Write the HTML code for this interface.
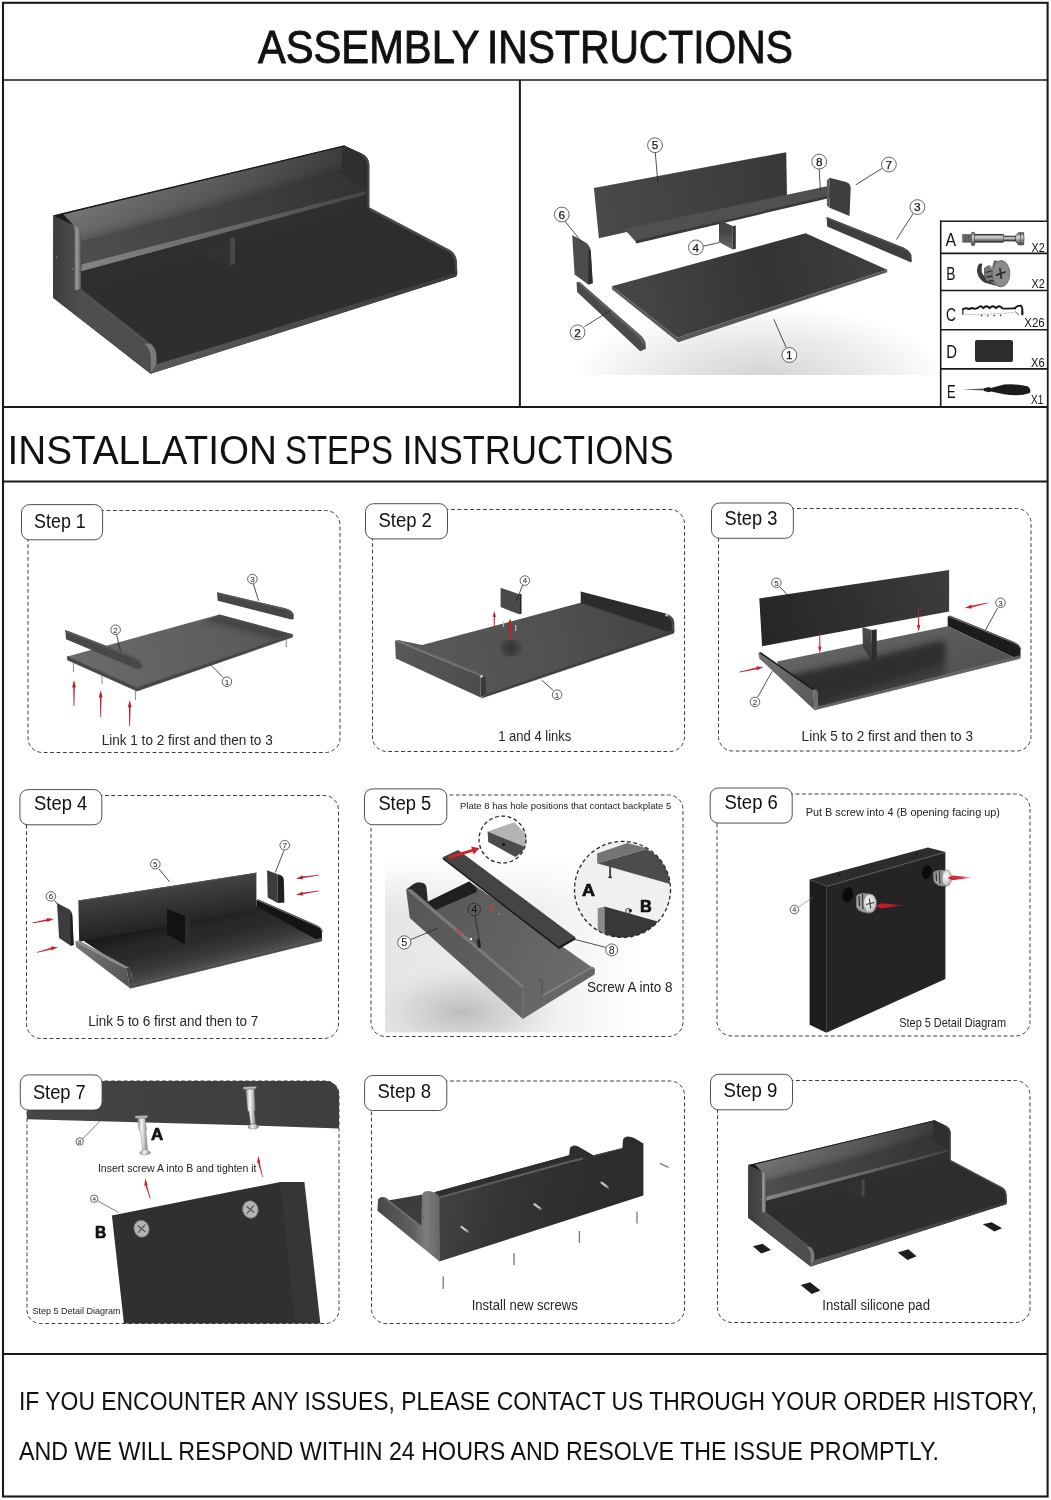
<!DOCTYPE html>
<html lang="en">
<head>
<meta charset="utf-8">
<title>Assembly Instructions</title>
<style>
html,body{margin:0;padding:0;background:#fff;}
body{width:1051px;height:1500px;overflow:hidden;font-family:"Liberation Sans",sans-serif;}
svg{display:block;position:absolute;left:0;top:0;will-change:opacity;opacity:0.999;}
text{font-family:"Liberation Sans",sans-serif;fill:#111;}
.cap{font-size:14px;fill:#262626;}
.step{font-size:20px;fill:#111;}
.num{font-size:8px;fill:#222;text-anchor:middle;}
.ld{stroke:#222;stroke-width:0.8;fill:none;}
.cir{stroke:#222;stroke-width:0.7;fill:#fff;}
.dash{fill:none;stroke:#3c3c3c;stroke-width:1;stroke-dasharray:3.8 2.6;}
.lab{fill:#fff;stroke:#3c3c3c;stroke-width:0.9;}
.fr{stroke:#1a1a1a;fill:none;}
</style>
</head>
<body>
<svg width="1051" height="1500" viewBox="0 0 1051 1500">
<!-- frame -->
<rect class="fr" x="3" y="2.8" width="1044.6" height="1493.7" stroke-width="2.1"/>
<line class="fr" x1="3" y1="79.9" x2="1047" y2="79.9" stroke-width="1.5"/>
<line class="fr" x1="519.9" y1="80" x2="519.9" y2="407" stroke-width="2"/>
<line class="fr" x1="3" y1="407" x2="1047" y2="407" stroke-width="2"/>
<line class="fr" x1="3" y1="481.6" x2="1047" y2="481.6" stroke-width="2"/>
<line class="fr" x1="3" y1="1354" x2="1047" y2="1354" stroke-width="2"/>
<!-- headings -->
<g font-size="45.4" style="stroke:#111;stroke-width:0.9">
<text x="258" y="62.8" textLength="221.5" lengthAdjust="spacingAndGlyphs">ASSEMBLY</text>
<text x="487" y="62.8" textLength="306" lengthAdjust="spacingAndGlyphs">INSTRUCTIONS</text>
</g>
<g font-size="41" style="fill:#1c1c1c">
<text x="7.5" y="463.6" textLength="269.5" lengthAdjust="spacingAndGlyphs">INSTALLATION</text>
<text x="285" y="463.6" textLength="108" lengthAdjust="spacingAndGlyphs">STEPS</text>
<text x="402.5" y="463.6" textLength="271" lengthAdjust="spacingAndGlyphs">INSTRUCTIONS</text>
</g>
<text x="19" y="1410" font-size="25.8" textLength="1018" lengthAdjust="spacingAndGlyphs">IF YOU ENCOUNTER ANY ISSUES, PLEASE CONTACT US THROUGH YOUR ORDER HISTORY,</text>
<text x="19" y="1460" font-size="25.8" textLength="920" lengthAdjust="spacingAndGlyphs">AND WE WILL RESPOND WITHIN 24 HOURS AND RESOLVE THE ISSUE PROMPTLY.</text>
<!-- step boxes -->
<g id="boxes">
<rect class="dash" x="28" y="510.5" width="312.0" height="242.0" rx="14.5"/>
<rect class="dash" x="372.5" y="509.5" width="312.0" height="242.0" rx="14.5"/>
<rect class="dash" x="718.5" y="508.5" width="312.5" height="242.5" rx="14.5"/>
<rect class="dash" x="26.5" y="795.5" width="312.0" height="243.0" rx="14.5"/>
<rect class="dash" x="371" y="795" width="312.0" height="241.5" rx="14.5"/>
<rect class="dash" x="717" y="794" width="313.0" height="242.0" rx="14.5"/>
<rect class="dash" x="27" y="1081" width="312" height="242.5" rx="13.5"/>
<rect class="dash" x="371.5" y="1081" width="313.0" height="242.5" rx="14.5"/>
<rect class="dash" x="717.5" y="1080.5" width="312.5" height="242.0" rx="14.5"/>
</g>
<!-- product render (top-left) -->
<defs>
<linearGradient id="p1back" gradientUnits="userSpaceOnUse" x1="80" y1="230" x2="345" y2="165">
<stop offset="0" stop-color="#727272"/><stop offset="0.5" stop-color="#5e5e5e"/><stop offset="1" stop-color="#404040"/></linearGradient>
<linearGradient id="p1backv" gradientUnits="userSpaceOnUse" x1="0" y1="0" x2="14" y2="56" spreadMethod="pad">
<stop offset="0" stop-color="#000" stop-opacity="0"/><stop offset="1" stop-color="#000" stop-opacity="0.35"/></linearGradient>
<linearGradient id="p1side" gradientUnits="userSpaceOnUse" x1="53" y1="0" x2="80" y2="0">
<stop offset="0" stop-color="#3c3c3c"/><stop offset="1" stop-color="#4e4e4e"/></linearGradient>
<linearGradient id="p1edge" gradientUnits="userSpaceOnUse" x1="74" y1="0" x2="81" y2="0">
<stop offset="0" stop-color="#6a6a6c"/><stop offset="0.4" stop-color="#9a9a9c"/><stop offset="1" stop-color="#5c5c5e"/></linearGradient>
<linearGradient id="p1shelf" gradientUnits="userSpaceOnUse" x1="80" y1="260" x2="366" y2="190">
<stop offset="0" stop-color="#4e4e4e"/><stop offset="1" stop-color="#323434"/></linearGradient>
<linearGradient id="p1shelff" gradientUnits="userSpaceOnUse" x1="80" y1="268" x2="366" y2="193">
<stop offset="0" stop-color="#858587"/><stop offset="0.5" stop-color="#6a6a6c"/><stop offset="1" stop-color="#454547"/></linearGradient>
<linearGradient id="p1front" gradientUnits="userSpaceOnUse" x1="150" y1="370" x2="457" y2="274">
<stop offset="0" stop-color="#5a5a5c"/><stop offset="1" stop-color="#3a3a3c"/></linearGradient>
<linearGradient id="p1rail" gradientUnits="userSpaceOnUse" x1="53" y1="298" x2="150" y2="374">
<stop offset="0" stop-color="#38383a"/><stop offset="1" stop-color="#4c4c4e"/></linearGradient>
<linearGradient id="p1bv" gradientUnits="userSpaceOnUse" x1="200" y1="181" x2="208" y2="211"><stop offset="0" stop-color="#000" stop-opacity="0"/><stop offset="0.6" stop-color="#000" stop-opacity="0.08"/><stop offset="1" stop-color="#000" stop-opacity="0.3"/></linearGradient>
</defs>
<g id="product">
<!-- silhouette -->
<path fill="#2c2e30" d="M53.3,215.4 L61.7,213.5 L344.2,145.5 L362,153.8 Q368.6,157 369.2,164.5 L369.2,208.5 L448.8,250.1 Q455.5,253.5 456.3,260.5 L457.3,273 L456.3,276.5 L150.6,373.8 L53.1,297.7 Z"/>
<!-- back panel inner face -->
<path fill="url(#p1back)" d="M63,214 L342,147.3 L342,174 L81,243 L80.8,236 Q80,229.5 74,226 Z"/>
<path fill="url(#p1bv)" d="M63,214 L342,147.3 L342,174 L81,243 L80.8,236 Q80,229.5 74,226 Z"/>
<path fill="#1c1c1e" d="M53.3,215.4 L61.7,213.3 L344.2,145.3 L345,146.2 L63,214.6 L74.5,226 L73.9,229 Z" />
<!-- lower back wall under shelf -->
<path fill="#2f2f31" d="M81,270 L366,194 L342,212.5 L81,291 Z"/>
<!-- shelf top -->
<path fill="url(#p1shelf)" d="M81,241.2 L342,172.5 L366,191.2 L81.3,264.7 Z"/>
<!-- shelf front face -->
<path fill="url(#p1shelff)" d="M81.3,264.5 L366,191 L366,194.6 L81.3,271.2 Z"/>
<!-- right panel inner face -->
<path fill="#2f2f31" d="M342,147.5 L344.2,145.5 L362,153.8 Q368.6,157 369.2,164.5 L369.2,208.5 L366.5,207.3 L366.5,190.8 L342,172.5 Z"/>
<path fill="#48484a" d="M362,153.8 Q368.6,157 369.2,164.5 L369.2,208.5 L367.4,207.6 L367.4,165 Q367,158.5 360.5,155 Z"/>
<!-- right rail inner face -->
<path fill="#2d2d2f" d="M342,211 L369.2,208.5 L448.8,250.1 Q455.5,253.5 456.3,260.5 L457.2,272.7 L444,269 Z"/>
<path fill="#4a4a4c" d="M369.2,207.2 L448.8,249.3 Q456,253 456.8,260.5 L457.3,272.5 L455.3,272.5 L454.6,261 Q454,255 447.8,251.6 L369.2,210 Z"/>
<!-- divider -->
<path fill="#313133" d="M207.7,243.7 L230.3,238.2 L230.3,265.6 L207.7,258.4 Z"/>
<path fill="#48484a" d="M230.3,238.2 L235,237 L235,263.4 L230.3,265.6 Z"/>
<!-- left outer face -->
<path fill="url(#p1side)" d="M53.3,215.4 L70,223.4 Q74.5,226 74.5,232 L74.5,290.5 L144,343.5 Q150,348.5 150.6,356 L150.6,373.8 L53.1,297.7 Z"/>
<!-- panel 6 front edge highlight -->
<path fill="url(#p1edge)" d="M70,223.4 L75.5,226 Q80.6,229.5 80.8,236.5 L80.8,289.5 L74.5,290.5 L74.5,232 Q74.5,226 70,223.4 Z"/>
<!-- rail 2 top face -->
<path fill="#505052" d="M74.5,290.5 L80.8,288.8 L150.5,343.5 L144,343.5 Z"/>
<!-- rail 2 front end -->
<path fill="#7a7a7c" d="M144,343.5 L150.5,343.5 Q156,348 156.4,355.5 L156.6,364.3 L150.6,373.8 L150.6,356 Q150,348.5 144,343.5 Z"/>
<!-- base front strip -->
<path fill="url(#p1front)" d="M156.6,364.3 L457.2,272.7 L456.3,276.5 L150.6,373.8 Z"/>
<circle cx="56.5" cy="257" r="0.7" fill="#9a9a9a"/><circle cx="72.5" cy="269" r="0.7" fill="#9a9a9a"/>
</g>
<!-- exploded view (top-right) -->
<defs>
<radialGradient id="exsh" gradientUnits="userSpaceOnUse" cx="760" cy="380" r="1" gradientTransform="translate(760 380) scale(190 75) translate(-760 -380)">
<stop offset="0" stop-color="#d2d2d2"/><stop offset="0.6" stop-color="#ececec"/><stop offset="1" stop-color="#ffffff"/></radialGradient>
<linearGradient id="ex5" gradientUnits="userSpaceOnUse" x1="594" y1="200" x2="787" y2="170">
<stop offset="0" stop-color="#4a4a4c"/><stop offset="1" stop-color="#38383a"/></linearGradient>
<linearGradient id="ex1" gradientUnits="userSpaceOnUse" x1="640" y1="300" x2="870" y2="260">
<stop offset="0" stop-color="#454547"/><stop offset="0.55" stop-color="#343436"/><stop offset="1" stop-color="#3e3e40"/></linearGradient>
<linearGradient id="ex4" x1="0" y1="0" x2="0" y2="1"><stop offset="0.4" stop-color="#444446"/><stop offset="1" stop-color="#6a6a6c"/></linearGradient>
</defs>
<g id="exploded">
<clipPath id="exclip"><rect x="524" y="84" width="416" height="291"/></clipPath>
<rect x="524" y="84" width="416" height="291" fill="url(#exsh)" clip-path="url(#exclip)"/>
<!-- back panel 5 -->
<path fill="url(#ex5)" d="M593.9,188 L786.2,152.2 L787,196 L598.9,238.3 Z"/>
<!-- shelf 8 -->
<path fill="#505050" d="M624.1,229 L829.5,185.7 L833,195 L635.2,241 Z"/>
<path fill="#38383a" d="M635.2,240.6 L833,194.6 L833,197.2 L636.2,243.4 Z"/>
<!-- divider 4 -->
<path fill="url(#ex4)" d="M719,220 L732.7,226 L732.7,249.6 L719,242 Z"/>
<path fill="#343436" d="M732.7,226 L735.8,225.5 L735.8,248.8 L732.7,249.6 Z"/>
<!-- panel 6 -->
<path fill="#4c4c4c" d="M572.2,235 L583.3,241.2 Q590.2,244.6 590.7,250.5 L592.7,283.3 L588.2,284.5 L574.6,274.6 Z"/>
<path fill="#2e2e30" d="M588.5,250 L590.7,250.5 L592.7,283.3 L588.2,284.5 Z"/>
<!-- rail 2 -->
<path fill="#4a4a4a" d="M576.6,282 L579.6,282 L639,334 Q645,339 645.5,344 L645.9,348.8 L640.2,351.3 L577.1,292 Z"/>
<path fill="#606060" d="M576.6,282 L579.6,282 L639,334 Q645,339 645.5,344 L641.5,343.5 Q641,339 636.5,335.5 Z"/>
<!-- base 1 -->
<path fill="url(#ex1)" d="M611.7,286.3 L805.6,233.3 L887.2,269.7 L677.3,337.7 Z"/>
<path fill="#585858" d="M611.7,286.3 L677.3,337.7 L887.2,269.7 L887.2,272.3 L678.3,342.3 L612.2,289.5 Z"/>
<!-- panel 7 -->
<path fill="#3e3e40" d="M829.4,177.8 L846.1,181.9 Q850.5,183.5 850.7,188 L849.5,216.1 L829.4,207.7 Z"/>
<path fill="#5a5a5c" d="M826.9,180.5 L829.4,177.8 L829.4,207.7 L826.9,205.5 Z"/>
<!-- rail 3 -->
<path fill="#3e3e40" d="M826.6,217 L903.3,247.4 Q911,251 911.4,256 L911.9,261.5 L910.7,262.3 L827.1,226.4 Z"/>
<path fill="#4e4e50" d="M826.6,217 L903.3,247.4 Q911,251 911.4,256 L909.5,255.7 Q909,252.3 902.5,249 L826.7,219 Z"/>
<!-- callouts -->
<g class="ld">
<line x1="655.3" y1="152.6" x2="657.9" y2="183.1"/>
<line x1="564.7" y1="220.9" x2="582.1" y2="242.5"/>
<line x1="703.3" y1="246.2" x2="719.4" y2="242.5"/>
<line x1="584.5" y1="326.6" x2="610.5" y2="310.5"/>
<line x1="786.2" y1="347.6" x2="773.8" y2="319.2"/>
<line x1="819.2" y1="169" x2="820.4" y2="190.5"/>
<line x1="882.3" y1="168.2" x2="855.8" y2="184.8"/>
<line x1="913.2" y1="213.5" x2="896.4" y2="239.5"/>
</g>
<g class="cir">
<circle cx="655" cy="145.2" r="7.4"/><circle cx="561.8" cy="214.5" r="7.4"/><circle cx="695.9" cy="247.4" r="7.4"/><circle cx="577.6" cy="332.3" r="7.4"/>
<circle cx="789.4" cy="355" r="7.4"/><circle cx="819.2" cy="161.6" r="7.4"/><circle cx="888.9" cy="164.5" r="7.4"/><circle cx="917.4" cy="207.1" r="7.4"/>
</g>
<g class="num" style="font-size:11.8px;stroke:#222;stroke-width:0.25">
<text x="655" y="149.4">5</text><text x="561.8" y="218.7">6</text><text x="695.9" y="251.6">4</text><text x="577.6" y="336.5">2</text>
<text x="789.4" y="359.2">1</text><text x="819.2" y="165.8">8</text><text x="888.9" y="168.7">7</text><text x="917.4" y="211.3">3</text>
</g>
</g>
<!-- parts table -->
<defs>
<linearGradient id="metal" x1="0" y1="0" x2="0" y2="1">
<stop offset="0" stop-color="#5a5a5a"/><stop offset="0.35" stop-color="#dadada"/><stop offset="0.65" stop-color="#8c8c8c"/><stop offset="1" stop-color="#484848"/></linearGradient>
</defs>
<g id="ptable">
<rect x="940.7" y="221.2" width="106" height="184.6" fill="#fff"/>
<g class="fr" stroke-width="1.6">
<line x1="940.7" y1="220.4" x2="940.7" y2="407"/>
<line x1="940" y1="221.2" x2="1047" y2="221.2"/>
<line x1="940" y1="253.4" x2="1047" y2="253.4"/>
<line x1="940" y1="290.5" x2="1047" y2="290.5"/>
<line x1="940" y1="329.7" x2="1047" y2="329.7"/>
<line x1="940" y1="368.9" x2="1047" y2="368.9"/>
</g>
<g font-size="18.2">
<text x="945.6" y="246.1" textLength="10.6" lengthAdjust="spacingAndGlyphs">A</text>
<text x="946.3" y="280" textLength="9.2" lengthAdjust="spacingAndGlyphs">B</text>
<text x="946" y="320.6" textLength="10" lengthAdjust="spacingAndGlyphs">C</text>
<text x="946.3" y="358" textLength="10.8" lengthAdjust="spacingAndGlyphs">D</text>
<text x="947" y="398.2" textLength="8.6" lengthAdjust="spacingAndGlyphs">E</text>
</g>
<g font-size="13.2">
<text x="1031.5" y="251.6" textLength="13.2" lengthAdjust="spacingAndGlyphs">X2</text>
<text x="1031.5" y="287.7" textLength="13.2" lengthAdjust="spacingAndGlyphs">X2</text>
<text x="1024.3" y="327.3" textLength="20.4" lengthAdjust="spacingAndGlyphs">X26</text>
<text x="1031" y="366.5" textLength="13.6" lengthAdjust="spacingAndGlyphs">X6</text>
<text x="1031" y="403.8" textLength="12.2" lengthAdjust="spacingAndGlyphs">X1</text>
</g>
<!-- A: bolt -->
<g>
<rect x="962.6" y="234.6" width="9" height="7.6" fill="#7a7a7a" stroke="#444" stroke-width="0.5"/>
<path d="M964,234.6v7.6M965.5,234.6v7.6M967,234.6v7.6M968.5,234.6v7.6M970,234.6v7.6" stroke="#3c3c3c" stroke-width="0.6"/>
<rect x="971.4" y="232.3" width="3.4" height="13.3" rx="1.3" fill="url(#metal)" stroke="#333" stroke-width="0.6"/>
<rect x="974.8" y="234.2" width="28.5" height="8" fill="url(#metal)" stroke="#444" stroke-width="0.5"/>
<path d="M974.8,234.6 h28.5 M974.8,241.8 h28.5" stroke="#2a2a2a" stroke-width="0.9"/>
<rect x="1003.3" y="236.1" width="13" height="4.9" fill="url(#metal)" stroke="#444" stroke-width="0.5"/>
<path d="M1003.3,236.3 h13 M1003.3,240.8 h13" stroke="#2a2a2a" stroke-width="0.7"/>
<path d="M1015.5,236.3 L1018.4,232.7 L1023.6,232.7 L1024,238.7 L1023.6,244.8 L1018.4,244.8 L1015.5,240.9 Z" fill="url(#metal)" stroke="#2e2e2e" stroke-width="0.7"/>
<path d="M1020.5,233 L1020.8,244.5" stroke="#444" stroke-width="0.7"/>
</g>
<!-- B: cam -->
<g>
<path d="M979.5,263.6 Q976.5,267 977.2,272 Q978,279 985,282.8 L995,285.4 L994,281 Q984.5,279.5 981.8,272 Q981.2,266.5 982.4,263.8 Z" fill="#3c3c3c"/>
<path d="M984.5,268 L989,265.5 L992.5,267.5 L994.5,260.5 L999,262 L1001,262 L1001,286.6 L995,285 L986,280.5 Q983.5,276 984.5,268 Z" fill="#7a7a7a" stroke="#333" stroke-width="0.6"/>
<path d="M986,272.5 L994.5,270 M986.5,277 L994,276 M989,281 L995,281" stroke="#2a2a2a" stroke-width="1.3" fill="none"/>
<path d="M989.5,266.5 L993,268.5 L992,271" stroke="#ddd" stroke-width="0.9" fill="none"/>
<ellipse cx="1001" cy="273.7" rx="8.8" ry="13.1" fill="#8c8c8c" stroke="#5a5a5a" stroke-width="0.8"/>
<path d="M995.7,275.3 L1005.6,271.9 M999.9,268 L1001.4,279" stroke="#2c2c2c" stroke-width="1.8" fill="none"/>
</g>
<!-- C: screw -->
<g>
<path d="M962.8,308.4 L962.8,314.6" stroke="#222" stroke-width="1.3"/>
<path d="M962.6,309.2 L966,308.2 L969,309 L972,308 L975,308.8 L978,307.8 Q981,304.5 983.4,308.2 Q986.5,304.3 989.6,308.2 Q993,304.2 996,308.2 Q999.5,304.3 1002.4,308.4 L1004.5,308.6 L1016,308.4" fill="none" stroke="#161616" stroke-width="1.9" stroke-linejoin="round"/>
<path d="M963,314.4 L978,314.6 L1004,313.2 L1015,312.4" fill="none" stroke="#b4b4b4" stroke-width="0.9" stroke-dasharray="2.4 1"/>
<g fill="#2a2a2a"><circle cx="981.6" cy="315.6" r="0.8"/><circle cx="987.8" cy="315.7" r="0.8"/><circle cx="994.2" cy="315.6" r="0.8"/><circle cx="1000.6" cy="315.4" r="0.8"/></g>
<path d="M1014.5,308.6 Q1017,305.3 1021,305.6 Q1023,308 1022.4,315.2" fill="none" stroke="#161616" stroke-width="1.8"/>
<path d="M1015.2,311.6 L1019.2,315 M1021.8,309 L1021.4,314.6" stroke="#333" stroke-width="0.8" fill="none"/>
</g>
<!-- D: pad -->
<rect x="975" y="339.9" width="38" height="22" rx="2" fill="#2c2c2e"/>
<!-- E: screwdriver -->
<g>
<path d="M962.5,389.6 L984,388.6 L984,390.6 Z" fill="#555"/>
<path d="M984,388.2 L989,387 L991,388 L1004,384.6 Q1018,383.6 1028,386.4 Q1031.5,389 1029.8,393 Q1020,396.8 1004,394.2 L991,391.4 L989,392.2 L984,391 Z" fill="#1c1c1c"/>
</g>
</g>
<!-- step 1 -->
<defs>
<linearGradient id="s1base" gradientUnits="userSpaceOnUse" x1="80" y1="670" x2="290" y2="625">
<stop offset="0" stop-color="#6a6a6a"/><stop offset="0.5" stop-color="#606060"/><stop offset="1" stop-color="#585858"/></linearGradient>
<linearGradient id="s1sh" gradientUnits="userSpaceOnUse" x1="256" y1="623" x2="251" y2="642">
<stop offset="0" stop-color="#404040" stop-opacity="0.5"/><stop offset="0.35" stop-color="#3c3c3c" stop-opacity="0.75"/><stop offset="1" stop-color="#5a5a5a" stop-opacity="0"/></linearGradient>
</defs>
<g id="step1">
<!-- screws -->
<g stroke="#9a9a9a" stroke-width="1.2"><line x1="73.5" y1="663" x2="73.5" y2="672"/><line x1="102" y1="675" x2="102" y2="684"/><line x1="135.5" y1="690" x2="135.5" y2="700"/><line x1="286.3" y1="638" x2="286.3" y2="647"/></g>
<!-- rail 3 -->
<path fill="#464646" d="M217,592.2 L285,608.2 Q293,610.5 293.7,615 L293.7,618.9 L291.2,619.4 L217.7,600.8 Z"/>
<path fill="#5a5a5a" d="M217,592.2 L285,608.2 Q293,610.5 293.7,615 L291.8,614.8 Q291,611.6 284.5,609.8 L217.1,593.8 Z"/>
<!-- base -->
<path fill="url(#s1base)" d="M67.3,656.5 L219.5,614.4 L292.5,634.2 L136.6,687.4 Z"/>
<path fill="url(#s1sh)" d="M219.5,614.4 L292.5,634.2 L262,644.6 L196,626 Z"/>
<path fill="#464648" stroke="#464648" stroke-width="0.7" d="M67.3,656.5 L136.6,687.4 L292.5,634.2 L292.5,637 L137,691 L67.6,660 Z"/>
<!-- rail 2 -->
<path fill="#484848" d="M65.3,630 L134.1,656.5 Q141.4,659.6 141.8,664 L142,667.6 L136.6,668.9 L66,639.2 Z"/>
<path fill="#5c5c5c" d="M65.3,630 L134.1,656.5 Q141.4,659.6 141.8,664 L139.5,663.6 Q139,660.6 133.4,658.3 L65.4,632 Z"/>
<!-- arrows -->
<g fill="#be1e28"><path d="M74,680 L75.9,687.5 L74.8,687.2 L74.4,706 L73.6,706 L73.2,687.2 L72.1,687.5 Z"/><path d="M100.7,690 L102.60000000000001,697.5 L101.5,697.2 L101.10000000000001,717 L100.3,717 L99.9,697.2 L98.8,697.5 Z"/><path d="M129.7,700 L131.6,707.5 L130.5,707.2 L130.1,726 L129.29999999999998,726 L128.89999999999998,707.2 L127.79999999999998,707.5 Z"/></g>
<!-- callouts -->
<g class="ld"><line x1="116.5" y1="634.5" x2="120.5" y2="651.5"/><line x1="253.4" y1="584" x2="258.6" y2="600.8"/><line x1="223.2" y1="677.5" x2="210.8" y2="665.1"/></g>
<g class="cir"><circle cx="115.6" cy="629.8" r="4.8"/><circle cx="252.4" cy="579" r="4.8"/><circle cx="226.9" cy="681.7" r="4.8"/></g>
<g class="num"><text x="115.6" y="632.6">2</text><text x="252.4" y="581.8">3</text><text x="226.9" y="684.5">1</text></g>
<text class="cap" x="101.7" y="745" textLength="171" lengthAdjust="spacingAndGlyphs">Link 1 to 2 first and then to 3</text>
</g>
<!-- step 2 -->
<defs>
<linearGradient id="s2base" gradientUnits="userSpaceOnUse" x1="440" y1="680" x2="640" y2="610">
<stop offset="0" stop-color="#585858"/><stop offset="0.6" stop-color="#505050"/><stop offset="1" stop-color="#464646"/></linearGradient>
<linearGradient id="s2rail" gradientUnits="userSpaceOnUse" x1="395" y1="650" x2="482" y2="690">
<stop offset="0" stop-color="#585858"/><stop offset="1" stop-color="#4c4c4c"/></linearGradient>
<radialGradient id="s2sh" gradientUnits="userSpaceOnUse" cx="511" cy="648" r="13"><stop offset="0" stop-color="#262628" stop-opacity="0.75"/><stop offset="1" stop-color="#1e1e20" stop-opacity="0"/></radialGradient>
</defs>
<g id="step2">
<!-- rail 3 inner -->
<path fill="#2b2b2d" d="M580.7,591.4 L665.6,613.5 Q673.4,616 674.2,622 L674.2,631 L664.2,632.8 L580.7,604.3 Z"/>
<path fill="#4a4a4c" d="M665.6,613.5 Q673.4,616 674.2,622 L674.2,631 L671.8,631.6 L671.8,622.5 Q671,617.6 664,615 Z"/>
<!-- base top -->
<path fill="url(#s2base)" d="M399,640.2 L422.1,645.1 L580.5,602.8 L667.5,631.8 L674.2,630.5 L486.3,694.2 L482,677 Z"/>
<ellipse cx="511" cy="648" rx="14" ry="9" fill="url(#s2sh)"/>
<!-- front strip -->
<path fill="#3c3c3e" stroke="#3c3c3e" stroke-width="0.7" d="M486.3,694.2 L674.2,630.2 L673.6,633.2 L481.5,698 Z"/>
<!-- rail 2 outer -->
<path fill="url(#s2rail)" d="M395,640.5 L479.2,675.6 Q480.8,676.2 480.8,681 L480.6,697.6 L395.8,658.5 Z"/>
<path fill="#6a6a6a" d="M395,640.5 L399.2,639.9 L484,675.3 L479.2,675.6 Z"/>
<path fill="#3a3a3c" d="M479.2,675.6 L484,675.3 Q485.6,677 485.8,681 L486.3,694.2 L480.6,697.6 L480.8,681 Q480.8,676.2 479.2,675.6 Z"/>
<circle cx="481.6" cy="676.3" r="1.4" fill="#d8d8d8"/><circle cx="666.8" cy="615.2" r="1.3" fill="#c8c8c8"/>
<!-- divider 4 -->
<path fill="#4a4a4a" d="M500.6,587.7 L519.2,594.3 L519.2,614.2 L500.6,607.1 Z"/>
<path fill="#262628" d="M519.2,594.3 L521.5,593.7 L521.5,613.7 L519.2,614.2 Z"/>
<!-- screws + arrows -->
<g stroke="#b8b8b8" stroke-width="1.3"><line x1="503.5" y1="621.5" x2="503.5" y2="627"/><line x1="515.7" y1="625" x2="515.7" y2="631"/></g>
<g fill="#c4222c"><path d="M494.3,611 L496,617 L494.9,616.7 L494.7,630 L493.9,630 L493.7,616.7 L492.6,617 Z"/><path d="M510,618.6 L512.2,625 L511,624.7 L510.9,639.5 L509.1,639.5 L509,624.7 L507.8,625 Z"/></g>
<!-- callouts -->
<g class="ld"><line x1="522.6" y1="585.1" x2="516.3" y2="601.4"/><line x1="553.4" y1="690.5" x2="541.4" y2="679.9"/></g>
<g class="cir"><circle cx="524.9" cy="580.6" r="4.8"/><circle cx="557.1" cy="694.7" r="4.8"/></g>
<g class="num"><text x="524.9" y="583.4">4</text><text x="557.1" y="697.5">1</text></g>
<text class="cap" x="498.2" y="741" textLength="73.2" lengthAdjust="spacingAndGlyphs">1 and 4 links</text>
</g>
<!-- step 3 -->
<defs>
<linearGradient id="s3back" gradientUnits="userSpaceOnUse" x1="762" y1="640" x2="949" y2="580">
<stop offset="0" stop-color="#262628"/><stop offset="0.5" stop-color="#303032"/><stop offset="1" stop-color="#3c3c3e"/></linearGradient>
<linearGradient id="s3base" gradientUnits="userSpaceOnUse" x1="870" y1="632" x2="888" y2="695"><stop offset="0" stop-color="#666666"/><stop offset="0.4" stop-color="#5a5a5a"/><stop offset="1" stop-color="#525252"/></linearGradient>
<filter id="s3blur" x="-20%" y="-20%" width="140%" height="140%"><feGaussianBlur stdDeviation="3.4"/></filter>
<clipPath id="s3bclip"><path d="M777,661.5 L947.7,626.2 L1016.2,658.5 L1020.5,655.6 L817.8,707 L817.8,693.6 L779,667 Z"/></clipPath>
<linearGradient id="s3div" x1="0" y1="0" x2="0" y2="1"><stop offset="0" stop-color="#505050"/><stop offset="1" stop-color="#343434"/></linearGradient>
<linearGradient id="s3rail" gradientUnits="userSpaceOnUse" x1="758" y1="655" x2="815" y2="700">
<stop offset="0" stop-color="#727272"/><stop offset="1" stop-color="#5a5a5a"/></linearGradient>
</defs>
<g id="step3">
<!-- rail 3 inner -->
<path fill="#1c1c1e" d="M947.7,616.2 L1013.3,642.8 Q1020,645.5 1020.5,650 L1020.5,655.6 L1016.2,658.5 L947.7,626.2 Z"/>
<path fill="#505052" d="M947.7,616.2 L950,615.6 L1014,641.8 Q1021,645 1021.3,650 L1020.5,650 Q1020,645.5 1013.3,642.8 Z"/>
<!-- base top -->
<path fill="url(#s3base)" d="M777,661.5 L947.7,626.2 L1016.2,658.5 L1020.5,655.6 L817.8,707 L817.8,693.6 L779,667 Z"/>
<g clip-path="url(#s3bclip)"><path filter="url(#s3blur)" fill="#3e3e3e" d="M786,680 L944,641 L945,678 L830,710 L810,716 L796,690 Z"/><path filter="url(#s3blur)" fill="#2e2e2e" d="M780,678 L850,663.5 L900,652.5 L944,641.5 L945,663 L900,678 L850,694 L806,709 L790,690 Z"/></g>
<!-- front strip -->
<path fill="#626264" stroke="#626264" stroke-width="0.7" d="M817.8,707 L1020.5,655.6 L1020,658.4 L814.4,709.9 Z"/>
<!-- back panel 5 -->
<path fill="url(#s3back)" d="M759.3,598.5 L949.1,570 L949.1,611.4 L762.1,646.2 Z"/>
<!-- divider -->

<path fill="url(#s3div)" d="M862.3,627 L871.7,630 L871.7,661 L863,647 Z"/>
<path fill="#2c2c2e" d="M871.7,630 L876.7,629.3 L876.7,659.5 L871.7,661 Z"/>
<!-- rail 2 outer -->
<path fill="url(#s3rail)" d="M758.4,652.8 L812.1,689.9 Q813.5,691 813.6,694 L814.4,709.9 L759.3,658.5 Z"/>
<path fill="#202022" d="M758.4,652.8 L761,652.2 L815,689.4 L812.1,689.9 Z"/>
<path fill="#6a6a6c" d="M812.1,689.9 L816,689.3 Q817.8,690.8 817.8,693.6 L817.8,707 L814.4,709.9 L813.6,694 Q813.5,691 812.1,689.9 Z"/>
<!-- arrows -->
<g fill="#c4222c">
<path d="M819.8,653 L818,646.5 L819.2,646.8 L819.4,632.8 L820.2,632.8 L820.4,646.8 L821.6,646.5 Z"/>
<path d="M918.6,631.6 L916.8,625 L918,625.3 L918.2,608.5 L919,608.5 L919.2,625.3 L920.4,625 Z"/>
<path d="M964.8,608 L971.5,604.6 L971.4,605.8 L987.6,602.6 L987.7,603.2 L971.7,607.4 L972,608.6 Z"/>
<path d="M763.5,667 L756.8,670.4 L756.9,669.2 L739.3,672.5 L739.2,671.8 L756.6,667.6 L756.3,666.4 Z"/>
</g>
<!-- callouts -->
<g class="ld"><line x1="780.1" y1="587.1" x2="790.7" y2="598.5"/><line x1="997.6" y1="608" x2="985.6" y2="629.9"/><line x1="757.8" y1="697" x2="772.1" y2="671.3"/></g>
<g class="cir"><circle cx="776.4" cy="582.8" r="4.8"/><circle cx="1000.5" cy="602.8" r="4.8"/><circle cx="755" cy="701.9" r="4.8"/></g>
<g class="num"><text x="776.4" y="585.6">5</text><text x="1000.5" y="605.6">3</text><text x="755" y="704.7">2</text></g>
<text class="cap" x="801.6" y="740.8" textLength="171.4" lengthAdjust="spacingAndGlyphs">Link 5 to 2 first and then to 3</text>
</g>
<!-- step 4 -->
<defs>
<linearGradient id="s4back" gradientUnits="userSpaceOnUse" x1="165" y1="886" x2="171" y2="926">
<stop offset="0" stop-color="#444444"/><stop offset="0.4" stop-color="#363636"/><stop offset="1" stop-color="#242424"/></linearGradient>
<linearGradient id="s4base" gradientUnits="userSpaceOnUse" x1="192" y1="912" x2="206" y2="968">
<stop offset="0" stop-color="#161616"/><stop offset="0.3" stop-color="#262626"/><stop offset="0.55" stop-color="#2c2c2c"/><stop offset="0.8" stop-color="#3c3c3c"/><stop offset="1" stop-color="#505050"/></linearGradient>
<linearGradient id="s4rail" gradientUnits="userSpaceOnUse" x1="75" y1="942" x2="130" y2="985">
<stop offset="0" stop-color="#787878"/><stop offset="1" stop-color="#545454"/></linearGradient>
</defs>
<g id="step4">
<!-- rail 3 inner -->
<path fill="#141416" d="M256.4,900 L315.8,925.9 Q321.5,928 321.9,932 L321.9,938.1 L317.3,940.2 L256.4,909.8 Z"/>
<path fill="#4a4a4c" d="M256.4,900 L258.2,899.3 L316.5,925 Q322.4,927.5 322.8,932 L321.9,932 Q321.5,928 315.8,925.9 Z"/>
<!-- base top -->
<path fill="url(#s4base)" d="M79.2,938 L256.4,906 L317.3,940.2 L321.9,938.1 L132.2,985.3 L131.6,973.1 Z"/>
<!-- back panel -->
<path fill="url(#s4back)" d="M78.3,900.6 L256.4,872.6 L256.4,909.8 L79.2,941.8 Z"/>
<path fill="#555557" d="M78.3,900.6 L256.4,872.6 L256.4,873.6 L78.3,901.6 Z"/>
<!-- divider -->
<path fill="#121214" d="M167.1,909.1 L185,915.9 L185,944.3 L167.1,934.4 Z"/>
<path fill="#2c2c2e" d="M185,915.9 L190,917.1 L190,943.1 L185,944.3 Z"/>
<!-- front strip -->
<path fill="#4c4c4e" stroke="#4c4c4e" stroke-width="0.7" d="M132.2,985.3 L321.9,938.1 L321.5,941 L130.1,988.3 Z"/>
<!-- rail 2 outer -->
<path fill="url(#s4rail)" d="M75.2,941.1 L125.5,968.6 Q127.2,969.8 127.3,973 L130.1,988.3 L76.2,947.2 Z"/>
<path fill="#8a8a8c" d="M75.2,941.1 L79.2,940.4 L129.6,968 L125.5,968.6 Z"/>
<path fill="#444446" d="M125.5,968.6 L129.6,968 Q131.4,969.8 131.6,973.1 L132.2,985.3 L130.1,988.3 L127.3,973 Q127.2,969.8 125.5,968.6 Z"/>
<!-- panel 6 -->
<path fill="#3c3c3e" d="M57,903.1 L67.6,908.6 Q71.8,910.5 72.2,914.5 L73.7,945.1 L70.7,945.7 L59.1,938.1 Z"/>
<path fill="#1e1e20" d="M70.2,913.6 L72.2,914.5 L73.7,945.1 L70.7,945.7 Z"/>
<!-- panel 7 -->
<path fill="#3c3c3e" d="M267.1,870.2 L277.7,874.2 L277.7,903.1 L267.7,897.6 Z"/>
<path fill="#202022" d="M277.7,874.2 Q283.4,875.2 283.8,879.5 L284.4,902.5 L277.7,903.1 Z"/>
<!-- arrows -->
<g fill="#c4222c">
<path d="M53.9,918.9 L47.2,922.1 L47.3,921 L32.6,923.2 L32.5,922.6 L47,919.3 L46.7,918.1 Z"/>
<path d="M57.9,947.2 L51.2,950.6 L51.3,949.4 L37.2,952.7 L37.1,952.1 L51,947.8 L50.7,946.6 Z"/>
<path d="M296,878.7 L302.7,875.3 L302.6,876.5 L318.8,874.8 L318.9,875.4 L302.9,878.1 L303.2,879.3 Z"/>
<path d="M296,894.9 L302.7,891.5 L302.6,892.7 L318.8,890.6 L318.9,891.2 L302.9,894.3 L303.2,895.5 Z"/>
</g>
<!-- callouts -->
<g class="ld"><line x1="159" y1="869" x2="169.6" y2="881.8"/><line x1="54.8" y1="900.6" x2="63.1" y2="911.6"/><line x1="283.8" y1="850.7" x2="275.3" y2="872.6"/></g>
<g class="cir"><circle cx="155.3" cy="864.1" r="4.8"/><circle cx="50.9" cy="896.4" r="4.8"/><circle cx="284.7" cy="845.2" r="4.8"/></g>
<g class="num"><text x="155.3" y="866.9">5</text><text x="50.9" y="899.2">6</text><text x="284.7" y="848">7</text></g>
<text class="cap" x="88.2" y="1026.4" textLength="170" lengthAdjust="spacingAndGlyphs">Link 5 to 6 first and then to 7</text>
</g>
<!-- step 5 -->
<defs>
<linearGradient id="s5bg" gradientUnits="userSpaceOnUse" x1="385" y1="0" x2="640" y2="0">
<stop offset="0" stop-color="#e6e6e6"/><stop offset="0.6" stop-color="#efefef"/><stop offset="1" stop-color="#ffffff"/></linearGradient>
<radialGradient id="s5blob" gradientUnits="userSpaceOnUse" cx="0" cy="0" r="1" gradientTransform="translate(462 1012) scale(105 52)">
<stop offset="0" stop-color="#bcbcbc"/><stop offset="0.5" stop-color="#d4d4d4" stop-opacity="0.8"/><stop offset="1" stop-color="#e8e8e8" stop-opacity="0"/></radialGradient>
<linearGradient id="s5back" gradientUnits="userSpaceOnUse" x1="406" y1="890" x2="523" y2="1015">
<stop offset="0" stop-color="#565656"/><stop offset="0.5" stop-color="#5c5c5c"/><stop offset="1" stop-color="#646464"/></linearGradient>
<linearGradient id="s5base" gradientUnits="userSpaceOnUse" x1="430" y1="905" x2="590" y2="975">
<stop offset="0" stop-color="#585858"/><stop offset="1" stop-color="#6c6c6c"/></linearGradient>
<linearGradient id="s5fade" x1="0" y1="0" x2="0" y2="1"><stop offset="0" stop-color="#fff"/><stop offset="1" stop-color="#fff" stop-opacity="0"/></linearGradient>
<clipPath id="s5c1"><circle cx="502.5" cy="839.6" r="23.5"/></clipPath>
<clipPath id="s5c2"><circle cx="622.5" cy="889.4" r="48"/></clipPath>
<clipPath id="s5box"><rect x="372.5" y="795" width="311" height="241" rx="15"/></clipPath>
</defs>
<g id="step5">
<rect x="385" y="860" width="270" height="172.3" fill="url(#s5bg)"/>
<rect x="385" y="940" width="270" height="92.3" fill="url(#s5blob)"/>
<rect x="384" y="859" width="272" height="50" fill="url(#s5fade)"/>
<!-- unit: base top -->
<path fill="url(#s5base)" d="M427.8,901.8 L469.2,881.4 L595.1,969.5 L543.2,996 L537,979.4 L523,990 L409,891 Z"/>
<!-- far rail inner face (dark) -->
<path fill="#202022" d="M427.8,901.8 L469.2,881.4 L476.6,888.2 L476.6,892 L434.6,910.5 Z"/>
<!-- far side panel inner (dark) -->
<path fill="#2a2a2c" d="M406.1,889.5 L413.6,883.9 Q417.5,881.6 421.6,882.7 Q426,883.5 426.5,887.5 L427.8,901.8 L433,909 L411,893.5 Z"/>
<!-- back panel outer face -->
<path fill="url(#s5back)" d="M406.1,889.5 L411,891 L522.8,988.6 L522.8,1018.9 L409.8,917.9 Z"/>
<path fill="#7a7a7a" d="M406.1,889.5 L411,889 L524.5,986.5 L522.8,988.6 Z"/>
<!-- near side panel + rail outer face -->
<path fill="#666666" d="M522.8,988.6 L537,979.4 Q540,977.8 543.2,980.6 L543.2,994.2 L590.5,967 Q593.5,965.8 595.1,969.5 L594.5,974.4 L522.8,1018.9 Z"/>
<path fill="#5c5c5c" d="M537,979.4 Q540,977.8 543.2,980.6 L543.2,994.2 L541,995.4 L541,982 Z"/>
<path fill="#828282" d="M543.2,994.2 L590.5,967 Q593.5,965.8 595.1,969.5 L593.6,970 Q592.5,968 590.8,968.8 L543.2,996.4 Z"/>
<g fill="#8a8a8c"><circle cx="524.3" cy="995" r="0.6"/><circle cx="524.3" cy="1002" r="0.6"/><circle cx="524.3" cy="1009" r="0.6"/></g>
<!-- divider slot + marks -->
<path fill="#262628" d="M476.5,940 L479.5,938.5 L481,947.5 L478,948 Z"/>
<circle cx="471" cy="939" r="1.2" fill="#eee"/><circle cx="499" cy="913.8" r="1" fill="#8a8a8c"/>
<path d="M489.5,904.5 L491,911.5 M492.2,904.5 L491.6,911.5" stroke="#d23a3a" stroke-width="0.9" fill="none"/>
<path d="M456,929 L462,935" stroke="#d23a3a" stroke-width="1.1" fill="none"/>
<!-- shelf 8 -->
<path fill="#1c1c1e" d="M442.6,857.3 L443,859.6 L559,949 L575.5,939.5 L575.3,937.3 Z"/>
<path fill="#444444" d="M442.6,857.3 L458.1,849.9 L575.3,937.3 L558.6,946.6 Z"/>
<!-- red arrow -->
<path fill="#d4222c" d="M448.5,856 L472,849 L471.2,846.4 L479.5,848.2 L473.6,854.4 L472.8,851.8 L449.3,858.9 Z"/>
<!-- small detail circle -->
<g clip-path="url(#s5c1)">
<circle cx="502.5" cy="839.6" r="23.5" fill="#fff"/>
<path fill="#b4b4b4" d="M487.6,831.6 L514.2,822.3 L530,838 L524.1,846.4 Z"/>
<path fill="#4c4c4e" d="M487.6,831.6 L524.1,846.4 L522.3,852 L515.4,857 L488.2,842.1 Z"/>
<path fill="#5e5e60" d="M524.1,846.4 L530,838 L528,845 L522.3,852 Z"/>
<circle cx="503.7" cy="844.6" r="1.5" fill="#111"/>
</g>
<circle cx="502.5" cy="839.6" r="23.5" class="dash" style="stroke:#2a2a2a;stroke-width:1.3"/>
<!-- big detail circle -->
<g clip-path="url(#s5c2)">
<circle cx="622.5" cy="889.4" r="48" fill="#f0f0f0"/>
<path fill="#4c4c4e" d="M597.1,863.3 L646.6,849.1 L680,870 L672,884.5 Z"/>
<path fill="#747476" d="M597.1,853.4 L627.4,842.9 L648,848.5 L597.1,863.3 Z"/>
<rect x="609.2" y="861" width="1.9" height="16.5" fill="#444"/><rect x="608.4" y="876.6" width="3.5" height="1.6" fill="#333"/>
<path fill="#8a8a8c" d="M597.7,908.4 L604.5,906.6 L604.5,940 L597.7,940 Z"/>
<path fill="#38383a" d="M604.5,906.6 L657.7,921.4 L660,940 L604.5,940 Z"/>
<circle cx="628.2" cy="911" r="2.6" fill="#ddd" stroke="#222" stroke-width="0.8"/><circle cx="630.4" cy="910.4" r="1.5" fill="#111"/>
</g>
<circle cx="622.5" cy="889.4" r="48" class="dash" style="stroke:#2a2a2a;stroke-width:1.3"/>
<text x="582" y="895.7" font-size="16.8" font-weight="bold" style="stroke:#111;stroke-width:0.7" textLength="13" lengthAdjust="spacingAndGlyphs">A</text>
<text x="640" y="911.5" font-size="16.8" font-weight="bold" style="stroke:#111;stroke-width:0.7" textLength="11.8" lengthAdjust="spacingAndGlyphs">B</text>
<!-- callouts -->
<g class="ld"><line x1="474.8" y1="915.4" x2="480.3" y2="945.1"/><line x1="410.5" y1="939.7" x2="437.7" y2="928.4"/><line x1="605.8" y1="947.4" x2="572" y2="938.7"/></g>
<g class="cir"><circle cx="474.2" cy="909.3" r="6.2" style="fill:none"/><circle cx="404.3" cy="942.4" r="6.6"/><circle cx="611.7" cy="949.9" r="6"/></g>
<g class="num" style="font-size:11px"><text x="474.2" y="913.2">4</text><text x="404.3" y="946.4">5</text><text x="611.7" y="953.8" style="font-size:10.5px">8</text></g>
<text x="460" y="808.8" font-size="9.6" style="fill:#222" textLength="211.3" lengthAdjust="spacingAndGlyphs">Plate 8 has hole positions that contact backplate 5</text>
<text x="587" y="992.4" font-size="15.2" style="fill:#222" textLength="85.4" lengthAdjust="spacingAndGlyphs">Screw A into 8</text>
</g>
<!-- step 6 -->
<defs>
<linearGradient id="s6arr" x1="0" y1="0" x2="1" y2="0"><stop offset="0" stop-color="#d01c24"/><stop offset="0.6" stop-color="#d01c24" stop-opacity="0.85"/><stop offset="1" stop-color="#d01c24" stop-opacity="0.1"/></linearGradient>
<radialGradient id="s6cam" cx="0.4" cy="0.4" r="0.7"><stop offset="0" stop-color="#ffffff"/><stop offset="0.7" stop-color="#c8c8c8"/><stop offset="1" stop-color="#7a7a7a"/></radialGradient>
</defs>
<g id="step6">
<!-- divider 4 large -->
<path fill="#1d1d1f" d="M809.6,879.6 L826.4,886.3 L826.4,1032.8 L809.6,1024.8 Z"/>
<path fill="#2c2c2e" d="M809.6,879.6 L927.9,847.6 L945.4,852 L826.4,886.3 Z"/>
<path fill="#242426" d="M826.4,886.3 L945.4,852 L945.4,978.9 L826.4,1032.8 Z"/>
<path d="M826.4,886.6 L945.4,852.3" stroke="#5a5a5c" stroke-width="0.8"/>
<path d="M826.4,886.6 L826.4,1032" stroke="#38383a" stroke-width="0.7"/>
<circle cx="839.5" cy="875" r="0.9" fill="#0a0a0a"/><circle cx="916.9" cy="854" r="0.9" fill="#0a0a0a"/>
<ellipse cx="847.9" cy="894.9" rx="5.3" ry="7.6" fill="#0b0b0b" transform="rotate(12 847.9 894.9)"/>
<ellipse cx="926.9" cy="872" rx="4.8" ry="7" fill="#0b0b0b" transform="rotate(12 926.9 872)"/>
<!-- cam 1 -->
<g>
<path d="M856,896 Q858,893.5 862,893 L869,893.2 L869,913.5 L863,912.5 Q858,911 856,907 Z" fill="#9a9a9a" stroke="#3a3a3a" stroke-width="0.6"/>
<path d="M859,896 L859.5,906 M862.5,894 L863,909 M866,898 L866,903" stroke="#2a2a2a" stroke-width="1.1" fill="none"/>
<ellipse cx="870" cy="903.5" rx="6.6" ry="9.6" fill="url(#s6cam)" stroke="#777" stroke-width="0.5"/>
<path d="M866,904.5 L874,902.5 M869.3,898.5 L870.7,908.5" stroke="#333" stroke-width="1.1" fill="none"/>
</g>
<!-- cam 2 -->
<g>
<path d="M933,872.5 Q935,870 939,870 L946,870 L946,886.5 L940,886 Q935,884.5 933.5,881 Z" fill="#9a9a9a" stroke="#3a3a3a" stroke-width="0.6"/>
<path d="M936,872.5 L936.5,881 M939.5,871 L940,884 M943,874 L943,879" stroke="#2a2a2a" stroke-width="1" fill="none"/>
<ellipse cx="946.8" cy="878" rx="4.8" ry="8" fill="url(#s6cam)" stroke="#777" stroke-width="0.5"/>
</g>
<!-- arrows -->
<path fill="url(#s6arr)" d="M875.9,905.9 L881,903.2 L904,905.3 L881,908.4 Z"/>
<path fill="url(#s6arr)" d="M947.8,878 L952.5,875.5 L973,877.5 L952.5,880.3 Z"/>
<!-- callout -->
<line x1="799" y1="906.9" x2="813" y2="896.9" stroke="#777" stroke-width="0.6"/>
<circle class="cir" cx="794.4" cy="909.5" r="4.3"/>
<text class="num" x="794.4" y="912.2" style="font-size:7.4px">4</text>
<text x="805.7" y="815.7" font-size="11.6" style="fill:#222" textLength="194.3" lengthAdjust="spacingAndGlyphs">Put B screw into 4 (B opening facing up)</text>
<text x="899.3" y="1027.3" font-size="12.4" style="fill:#222" textLength="106.7" lengthAdjust="spacingAndGlyphs">Step 5 Detail Diagram</text>
</g>
<!-- step 7 -->
<defs>
<clipPath id="s7box"><rect x="27" y="1081" width="312" height="242.5" rx="13.5"/></clipPath>
<linearGradient id="s7shelf" gradientUnits="userSpaceOnUse" x1="27" y1="0" x2="340" y2="0"><stop offset="0" stop-color="#464646"/><stop offset="0.5" stop-color="#404040"/><stop offset="1" stop-color="#3e3e3e"/></linearGradient>
<linearGradient id="s7bolt" x1="0" y1="0" x2="1" y2="0"><stop offset="0" stop-color="#8a8a8a"/><stop offset="0.4" stop-color="#f6f6f6"/><stop offset="0.75" stop-color="#b8b8b8"/><stop offset="1" stop-color="#7a7a7a"/></linearGradient>
</defs>
<g id="step7">
<g clip-path="url(#s7box)">
<path fill="url(#s7shelf)" d="M20,1075 L345,1075 L345,1128.8 L339,1128.6 L260,1125.7 L27,1119.2 L20,1119 Z"/>
<!-- divider -->
<path fill="#303032" d="M111.9,1215.5 L280.4,1181.9 L295.9,1324 L124,1324 Z"/>
<path fill="#363638" d="M280.4,1181.9 L304.4,1181.9 L320.4,1324 L295.9,1324 Z"/>
<path d="M280.4,1181.9 L295.9,1324" stroke="#2e2e30" stroke-width="0.9"/>
</g>
<!-- bolts -->
<g stroke="#6a6a6a" stroke-width="0.45">
<path d="M135.2,1116 L147.4,1115.6 L147.5,1117.8 L135.3,1118.2 Z" fill="#c8c8c8"/>
<path d="M137.6,1118.2 L145.2,1118 L146.4,1130 L145.8,1131.5 L147.4,1149.4 L142.6,1149.6 L140.6,1131.6 L139.2,1130.2 Z" fill="url(#s7bolt)"/>
<path d="M142.6,1149.6 L147.4,1149.4 L150.4,1152.4 Q150.6,1154.4 145.8,1154.8 Q140.2,1155 139.8,1152.8 Z" fill="url(#s7bolt)"/>
<path d="M243.3,1087 L256.2,1086.6 L256.3,1088.8 L243.4,1089.2 Z" fill="#c8c8c8"/>
<path d="M245.8,1089.2 L254.2,1089 L255.2,1110 L254.4,1111.4 L255.6,1124 L250.6,1124.2 L249,1111.6 L247.6,1110.2 Z" fill="url(#s7bolt)"/>
<path d="M250.6,1124.2 L255.6,1124 L258.5,1126.6 Q258.7,1128.6 253.8,1129 Q248.2,1129.2 247.9,1127 Z" fill="url(#s7bolt)"/>
</g>
<!-- cams -->
<g>
<ellipse cx="141.5" cy="1228.7" rx="7.6" ry="8.6" fill="#b4b4b4" stroke="#6a6a6a" stroke-width="0.8" transform="rotate(-15 141.5 1228.7)"/>
<path d="M137.6,1225.5 L145.4,1232 M145,1224.6 L138,1232.8" stroke="#555" stroke-width="1.2"/>
<ellipse cx="250.4" cy="1209.5" rx="7.8" ry="8.8" fill="#b4b4b4" stroke="#6a6a6a" stroke-width="0.8" transform="rotate(-15 250.4 1209.5)"/>
<path d="M246.5,1206.3 L254.3,1212.8 M253.9,1205.4 L246.9,1213.6" stroke="#555" stroke-width="1.2"/>
</g>
<!-- arrows -->
<g fill="#c4222c"><path d="M145.2,1178.6 L147.8,1185 L146.8,1184.9 L150.8,1198.7 L150.2,1198.9 L145.2,1185.3 L144.3,1185.9 Z"/><path d="M258.1,1156 L260.6,1162.4 L259.6,1162.3 L263,1177 L262.4,1177.2 L258,1162.7 L257.1,1163.3 Z"/></g>
<text x="151" y="1139.9" font-size="16.4" font-weight="bold" style="stroke:#111;stroke-width:0.7" textLength="12.2" lengthAdjust="spacingAndGlyphs">A</text>
<text x="95" y="1238.3" font-size="16.4" font-weight="bold" style="stroke:#111;stroke-width:0.7" textLength="11.2" lengthAdjust="spacingAndGlyphs">B</text>
<!-- callouts -->
<g class="ld" style="stroke-width:0.6"><line x1="82.6" y1="1139" x2="99.8" y2="1121.4"/><line x1="97.6" y1="1200.8" x2="118.9" y2="1212.6"/></g>
<g class="cir"><circle cx="79.7" cy="1141.5" r="3.7"/><circle cx="94.2" cy="1198.7" r="3.7"/></g>
<g class="num" style="font-size:6.2px"><text x="79.7" y="1143.7">8</text><text x="94.2" y="1200.9">4</text></g>
<text x="97.9" y="1171.5" font-size="10.4" style="fill:#222" textLength="158.6" lengthAdjust="spacingAndGlyphs">Insert screw A into B and tighten it</text>
<text x="32.4" y="1313.7" font-size="9.8" style="fill:#222" textLength="88" lengthAdjust="spacingAndGlyphs">Step 5 Detail Diagram</text>
</g>
<!-- step 8 -->
<defs>
<linearGradient id="s8back" gradientUnits="userSpaceOnUse" x1="440" y1="1200" x2="600" y2="1230">
<stop offset="0" stop-color="#424244"/><stop offset="0.4" stop-color="#343436"/><stop offset="1" stop-color="#2c2c2e"/></linearGradient>
<linearGradient id="s8rail" gradientUnits="userSpaceOnUse" x1="378" y1="0" x2="438" y2="0">
<stop offset="0" stop-color="#48484a"/><stop offset="0.6" stop-color="#606062"/><stop offset="0.8" stop-color="#7e7e80"/><stop offset="1" stop-color="#6a6a6c"/></linearGradient>
</defs>
<g id="step8">
<!-- interior -->
<path fill="#3c3c3e" d="M388,1200.5 L422.5,1194.5 L422.5,1227 Z"/>
<!-- back panel silhouette (face + top band + bumps) -->
<path fill="url(#s8back)" d="M434.3,1192.3 L569.2,1155.2 L569.8,1148.5 Q571,1145.6 574.7,1145.4 Q577.5,1145.6 579.7,1147.3 L593.3,1155.3 L622.4,1147.9 L623,1139.8 Q624,1136.6 627.9,1136.4 Q631,1136.5 634.1,1138 L643.4,1143.6 L643.4,1195.5 L439.3,1261.6 L438.6,1197.8 Z"/>
<path fill="#2e2e30" d="M434.3,1192.3 L569.2,1155.2 L569.2,1161.7 L438.6,1198.2 Z"/>
<path d="M438.6,1197.8 L569.2,1161.7 L583,1158.5" stroke="#5e5e60" stroke-width="2" fill="none"/>
<path d="M593.3,1156 L622.4,1148.6" stroke="#4a4a4c" stroke-width="1" fill="none"/>
<!-- side outer face (rail + tall panel) -->
<path fill="url(#s8rail)" d="M378,1199.7 Q379.5,1196.6 382.4,1197 L386.1,1197.8 L421.3,1228.1 L421.9,1196 Q422.4,1191.8 426,1191.2 Q431,1190.4 434,1192.6 Q438.6,1194.5 439.4,1198 L439.8,1261.8 L377.4,1210.8 Z"/>
<path fill="#6c6c6e" d="M382.4,1197 L386.1,1197.8 L421.6,1226 L421.3,1229 Z"/>
<g fill="#3a3a3c"><circle cx="437" cy="1210" r="0.5"/><circle cx="436" cy="1227" r="0.5"/><circle cx="437.2" cy="1240" r="0.5"/><circle cx="423.5" cy="1217" r="0.5"/></g>
<!-- screws on face -->
<g stroke="#c8c8c8" stroke-width="2.2" stroke-linecap="round"><line x1="461.5" y1="1226.8" x2="467.3" y2="1231.4"/><line x1="534.4" y1="1204.1" x2="540.2" y2="1208.7"/><line x1="601.6" y1="1182.6" x2="607.4" y2="1187.2"/></g>
<g stroke="#6a6a6a" stroke-width="1" stroke-linecap="round"><line x1="466" y1="1231" x2="468.6" y2="1232.8"/><line x1="539" y1="1208.2" x2="541.6" y2="1210"/><line x1="606.2" y1="1186.7" x2="608.8" y2="1188.5"/></g>
<line x1="660.5" y1="1163.6" x2="668" y2="1167.2" stroke="#777" stroke-width="1.3" stroke-linecap="round"/>
<!-- screws below -->
<g stroke="#777" stroke-width="1.3"><line x1="443.2" y1="1276.5" x2="443.2" y2="1289"/><line x1="514" y1="1253" x2="514" y2="1265"/><line x1="579.4" y1="1231" x2="579.4" y2="1243"/><line x1="637" y1="1211.5" x2="637" y2="1223.5"/></g>
<text class="cap" x="471.7" y="1310" textLength="106" lengthAdjust="spacingAndGlyphs">Install new screws</text>
</g>
<!-- step 9 -->
<g id="step9">
<use href="#product" transform="translate(714.2 1027.2) scale(0.64)"/>
<g fill="#1e1e20">
<path d="M752.9,1246.3 L762.6,1243.8 L770.9,1249.9 L761.2,1253.5 Z"/>
<path d="M800.7,1284.9 L810.1,1282.2 L820.5,1290.4 L811.7,1294 Z"/>
<path d="M897.8,1252.6 L908.3,1249.3 L916.6,1256.2 L907.5,1260.1 Z"/>
<path d="M982.8,1224.2 L991.6,1222.3 L1002.1,1228.3 L994.4,1231.4 Z"/>
</g>
<text class="cap" x="822.3" y="1310" textLength="107.7" lengthAdjust="spacingAndGlyphs">Install silicone pad</text>
</g>
<!-- step labels -->
<g id="labels">
<rect class="lab" x="21.5" y="504.6" width="81.1" height="35.2" rx="8"/>
<text class="step" x="34.1" y="527.8" textLength="51.6" lengthAdjust="spacingAndGlyphs">Step 1</text>
<rect class="lab" x="365.5" y="503.7" width="82.0" height="35.2" rx="8"/>
<text class="step" x="378.5" y="526.9" textLength="53.4" lengthAdjust="spacingAndGlyphs">Step 2</text>
<rect class="lab" x="711.5" y="503" width="81.9" height="35.3" rx="8"/>
<text class="step" x="724.5" y="525.3" textLength="52.8" lengthAdjust="spacingAndGlyphs">Step 3</text>
<rect class="lab" x="19.9" y="789.6" width="81.9" height="35.2" rx="8"/>
<text class="step" x="34.1" y="810.3" textLength="53.2" lengthAdjust="spacingAndGlyphs">Step 4</text>
<rect class="lab" x="364.5" y="788.9" width="82.3" height="35.8" rx="8"/>
<text class="step" x="378.4" y="810.3" textLength="52.9" lengthAdjust="spacingAndGlyphs">Step 5</text>
<rect class="lab" x="710.2" y="788" width="82.0" height="35.1" rx="8"/>
<text class="step" x="724.4" y="808.6" textLength="53.5" lengthAdjust="spacingAndGlyphs">Step 6</text>
<rect class="lab" x="20.3" y="1074.9" width="81.8" height="35.2" rx="8"/>
<text class="step" x="32.9" y="1098.6" textLength="52.8" lengthAdjust="spacingAndGlyphs">Step 7</text>
<rect class="lab" x="364.6" y="1075.5" width="82.2" height="35.0" rx="8"/>
<text class="step" x="377.5" y="1098.1" textLength="53.6" lengthAdjust="spacingAndGlyphs">Step 8</text>
<rect class="lab" x="710.5" y="1074.3" width="82.0" height="35.5" rx="8"/>
<text class="step" x="723.5" y="1097.4" textLength="53.8" lengthAdjust="spacingAndGlyphs">Step 9</text>
</g>
</svg>
</body>
</html>
